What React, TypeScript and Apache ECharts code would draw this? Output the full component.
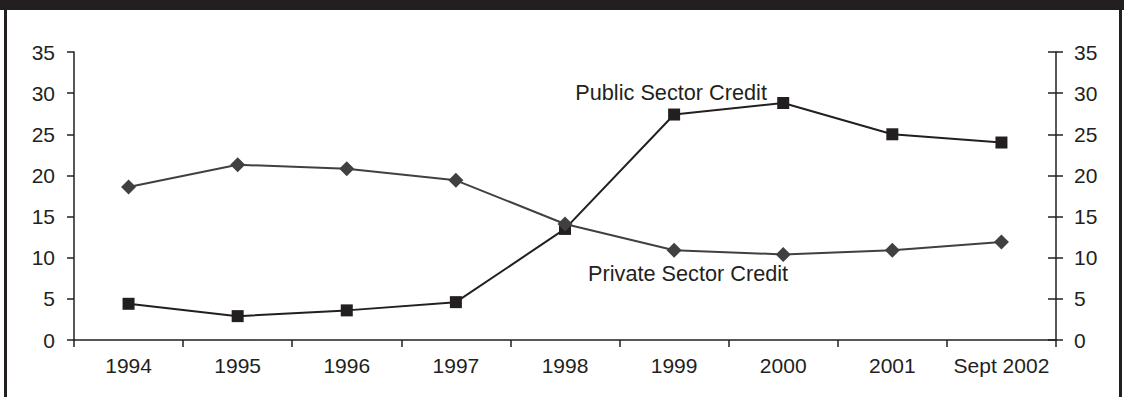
import React, { useEffect, useRef } from "react";
import * as echarts from "echarts";

const categories = ["1994", "1995", "1996", "1997", "1998", "1999", "2000", "2001", "Sept 2002"];
const publicCredit = [4.4, 2.9, 3.6, 4.6, 13.5, 27.4, 28.8, 25.0, 24.0];
const privateCredit = [18.6, 21.3, 20.8, 19.4, 14.1, 10.9, 10.4, 10.9, 11.9];
const publicName = "Public Sector Credit";
const privateName = "Private Sector Credit";
const labelIndex = 5;

const INK = "#231f20";
const GRAY = "#404040";
const FONT = "Liberation Sans, Arial, sans-serif";

export default function App() {
  const ref = useRef<HTMLDivElement>(null);
  useEffect(() => {
    if (!ref.current) return;
    const chart = echarts.init(ref.current, null, { renderer: "svg" });
    const yBase = {
      type: "value",
      min: 0,
      max: 35,
      interval: 5,
      splitLine: { show: false },
    };
    chart.setOption({
      animation: false,
      backgroundColor: "#ffffff",
      textStyle: { fontFamily: FONT, color: INK },
      grid: { left: 74, right: 68, top: 52, bottom: 57 },
      xAxis: {
        type: "category",
        data: categories,
        boundaryGap: true,
        axisLine: { lineStyle: { color: INK, width: 1.5 } },
        axisTick: { show: true, interval: 0, length: 7, lineStyle: { color: INK, width: 1.5 } },
        axisLabel: { interval: 0, color: INK, fontSize: 21, fontFamily: FONT, margin: 15 },
      },
      yAxis: [
        {
          ...yBase,
          position: "left",
          axisLine: { show: true, lineStyle: { color: INK, width: 1.5 } },
          axisTick: { show: true, length: 7, lineStyle: { color: INK, width: 1.5 } },
          axisLabel: { color: INK, fontSize: 21, fontFamily: FONT, margin: 19 },
        },
        {
          ...yBase,
          position: "right",
          axisLine: { show: true, lineStyle: { color: INK, width: 1.5 } },
          axisTick: { show: true, length: 7, lineStyle: { color: INK, width: 1.5 } },
          axisLabel: { color: INK, fontSize: 21, fontFamily: FONT, margin: 18 },
        },
        {
          ...yBase,
          position: "right",
          axisLine: { show: false },
          axisTick: { show: true, inside: true, length: 8, lineStyle: { color: INK, width: 1.5 } },
          axisLabel: { show: false },
        },
      ],
      graphic: [
        { type: "rect", shape: { x: 0, y: 0, width: 1124, height: 10 }, style: { fill: INK } },
        { type: "rect", shape: { x: 4, y: 0, width: 3, height: 397 }, style: { fill: INK } },
        { type: "rect", shape: { x: 1119, y: 0, width: 3, height: 397 }, style: { fill: INK } },
      ],
      series: [
        {
          name: publicName,
          type: "line",
          yAxisIndex: 0,
          symbol: "rect",
          symbolSize: 12,
          z: 2,
          lineStyle: { color: INK, width: 2 },
          itemStyle: { color: INK },
          data: publicCredit.map((v, i) =>
            i === labelIndex
              ? {
                  value: v,
                  label: {
                    show: true,
                    position: "top",
                    distance: 5,
                    offset: [-3, 0],
                    formatter: publicName,
                    fontSize: 21.7,
                    fontFamily: FONT,
                    color: INK,
                  },
                }
              : v
          ),
        },
        {
          name: privateName,
          type: "line",
          yAxisIndex: 0,
          symbol: "diamond",
          symbolSize: 15,
          z: 3,
          lineStyle: { color: GRAY, width: 2 },
          itemStyle: { color: GRAY },
          data: privateCredit.map((v, i) =>
            i === labelIndex
              ? {
                  value: v,
                  label: {
                    show: true,
                    position: "bottom",
                    distance: 5,
                    offset: [14, 0],
                    formatter: privateName,
                    fontSize: 21.7,
                    fontFamily: FONT,
                    color: INK,
                  },
                }
              : v
          ),
        },
      ],
    });
    return () => chart.dispose();
  }, []);
  return (
    <div
      ref={ref}
      style={{ position: "fixed", left: 0, top: 0, width: 1124, height: 397 }}
    />
  );
}
